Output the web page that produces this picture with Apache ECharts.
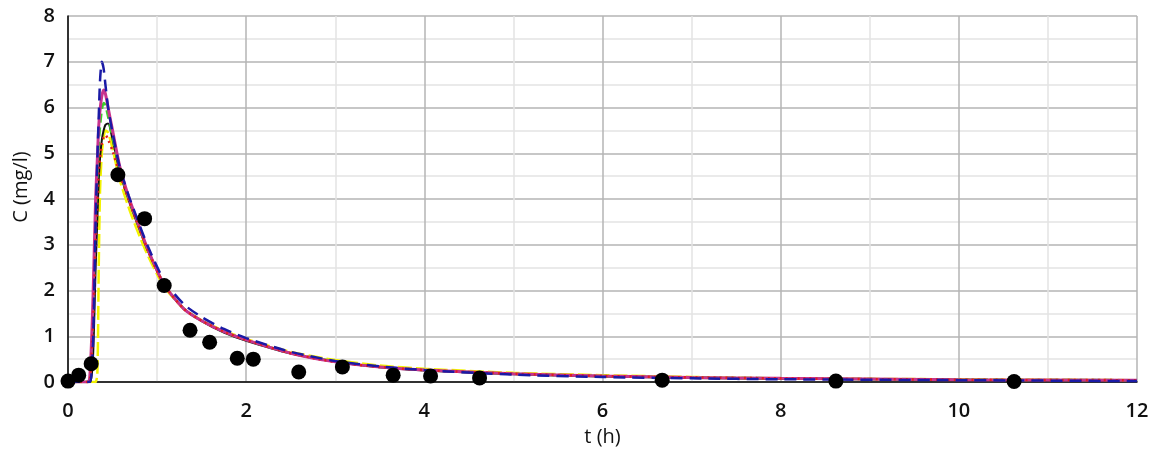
<!DOCTYPE html>
<html>
<head>
<meta charset="utf-8">
<script src="https://cdn.jsdelivr.net/npm/echarts@6/dist/echarts.min.js"></script>
<style>
html,body{margin:0;padding:0;background:#fff;}
#chart{width:1161px;height:452px;}
</style>
</head>
<body>
<div id="chart"></div>
<script>
// Time points (h) shared by all model curves
const times = [0, 0.22, 0.25, 0.28, 0.31, 0.33, 0.345, 0.36, 0.38, 0.4, 0.42, 0.45, 0.5, 0.58, 0.68, 0.77, 0.9, 1.08, 1.3, 1.5, 1.75, 2, 2.5, 3, 3.5, 4, 5, 6, 7, 8, 10, 12];

// Model curves C (mg/l)
const blackCurve   = [0, 0, 0, 0.5, 2.5, 3.6, 4.4, 4.9, 5.3, 5.5, 5.62, 5.65, 5.3, 4.6, 3.98, 3.5, 2.85, 2.13, 1.6, 1.33, 1.08, 0.9, 0.62, 0.44, 0.32, 0.25, 0.17, 0.12, 0.09, 0.07, 0.05, 0.03];
const blueCurve    = [0, 0, 0, 0.8, 3.5, 4.9, 5.8, 6.6, 7.0, 6.85, 6.5, 6.0, 5.45, 4.7, 4.08, 3.6, 2.95, 2.22, 1.7, 1.42, 1.16, 0.96, 0.66, 0.46, 0.34, 0.26, 0.16, 0.11, 0.08, 0.06, 0.04, 0.02];
const magentaCurve = [0, 0, 0.3, 1.8, 4.0, 4.9, 5.6, 5.95, 6.25, 6.38, 6.3, 6.0, 5.5, 4.72, 4.05, 3.56, 2.88, 2.13, 1.6, 1.34, 1.1, 0.92, 0.63, 0.44, 0.33, 0.26, 0.18, 0.13, 0.1, 0.08, 0.05, 0.04];
const greenCurve   = [0, 0, 0.2, 1.5, 3.6, 4.5, 5.2, 5.6, 5.95, 6.1, 6.05, 5.8, 5.35, 4.65, 4.02, 3.54, 2.87, 2.13, 1.6, 1.34, 1.1, 0.92, 0.63, 0.45, 0.33, 0.26, 0.18, 0.13, 0.1, 0.08, 0.05, 0.04];
const redCurve     = [0, 0, 0.1, 1.2, 3.0, 3.9, 4.6, 4.9, 5.2, 5.35, 5.4, 5.3, 5.05, 4.55, 3.98, 3.52, 2.86, 2.13, 1.6, 1.34, 1.1, 0.92, 0.63, 0.44, 0.33, 0.26, 0.18, 0.13, 0.1, 0.08, 0.05, 0.04];
const yellowCurve  = [0, 0, 0, 0, 0, 0.2, 2.5, 4.2, 5.0, 5.35, 5.5, 5.45, 5.1, 4.42, 3.82, 3.35, 2.75, 2.08, 1.6, 1.35, 1.12, 0.94, 0.66, 0.48, 0.36, 0.29, 0.2, 0.15, 0.11, 0.08, 0.06, 0.04];

// Observed data
const obsTime = [0, 0.12, 0.26, 0.56, 0.86, 1.08, 1.37, 1.59, 1.9, 2.08, 2.59, 3.08, 3.65, 4.07, 4.62, 6.67, 8.62, 10.62];
const obsConc = [0.02, 0.15, 0.4, 4.53, 3.57, 2.11, 1.13, 0.87, 0.52, 0.5, 0.22, 0.33, 0.15, 0.13, 0.09, 0.04, 0.02, 0.01];

// Axis labels
const xTitle = 't (h)';
const yTitle = 'C (mg/l)';

function pairs(ys){ return times.map((t,i)=>[t, ys[i]]); }

const chart = echarts.init(document.getElementById('chart'), null, {renderer:'canvas'});
const fontFam = '"Open Sans", "DejaVu Sans", sans-serif';

function curve(name, ys, color, width, type, z){
  return {
    name, type:'line', data: pairs(ys), showSymbol:false, symbol:'none',
    smooth:0.25, z,
    lineStyle:{color, width, type},
    animation:false
  };
}

chart.setOption({
  animation:false,
  backgroundColor:'#fff',
  grid:{left:68, right:24, top:16, bottom:68.5, containLabel:false},
  xAxis:{
    type:'value', min:0, max:12, interval:2,
    name:xTitle, nameLocation:'middle', nameGap:45,
    nameTextStyle:{fontSize:20, color:'#111', fontFamily:fontFam},
    axisLine:{show:true, onZero:false, lineStyle:{color:'#000', width:1.5}},
    axisTick:{show:false},
    axisLabel:{fontSize:20, color:'#111', margin:19, fontFamily:fontFam, fontWeight:600},
    splitLine:{show:true, lineStyle:{color:'#b4b4b4', width:1.5}},
    minorTick:{show:false, splitNumber:2},
    minorSplitLine:{show:true, lineStyle:{color:'#e3e3e3', width:1.5}}
  },
  yAxis:{
    type:'value', min:0, max:8, interval:1,
    name:yTitle, nameLocation:'middle', nameGap:37, nameRotate:90,
    nameTextStyle:{fontSize:20, color:'#111', fontFamily:fontFam, padding:[0,0,0,24]},
    axisLine:{show:true, onZero:false, lineStyle:{color:'#000', width:1.5}},
    axisTick:{show:false},
    axisLabel:{fontSize:20, color:'#111', margin:13, fontFamily:fontFam, fontWeight:600},
    splitLine:{show:true, lineStyle:{color:'#b4b4b4', width:1.5}},
    minorTick:{show:false, splitNumber:2},
    minorSplitLine:{show:true, lineStyle:{color:'#e3e3e3', width:1.5}}
  },
  series:[
    curve('yellow', yellowCurve, '#f2f200', 2.5, [14,4], 2),
    curve('black', blackCurve, '#111111', 2, 'solid', 3),
    curve('green', greenCurve, '#3ccc2c', 2.5, [9,5], 4),
    curve('magenta', magentaCurve, '#c8338e', 3, 'solid', 5),
    curve('red', redCurve, '#e02020', 2.5, [2,4], 6),
    curve('blue', blueCurve, '#1a1aa6', 2.5, [12,7], 7),
    {
      name:'observed', type:'scatter', z:10,
      data: obsTime.map((t,i)=>[t, obsConc[i]]),
      symbol:'circle', symbolSize:15,
      itemStyle:{color:'#000', opacity:1},
      animation:false
    }
  ]
});
</script>
</body>
</html>
